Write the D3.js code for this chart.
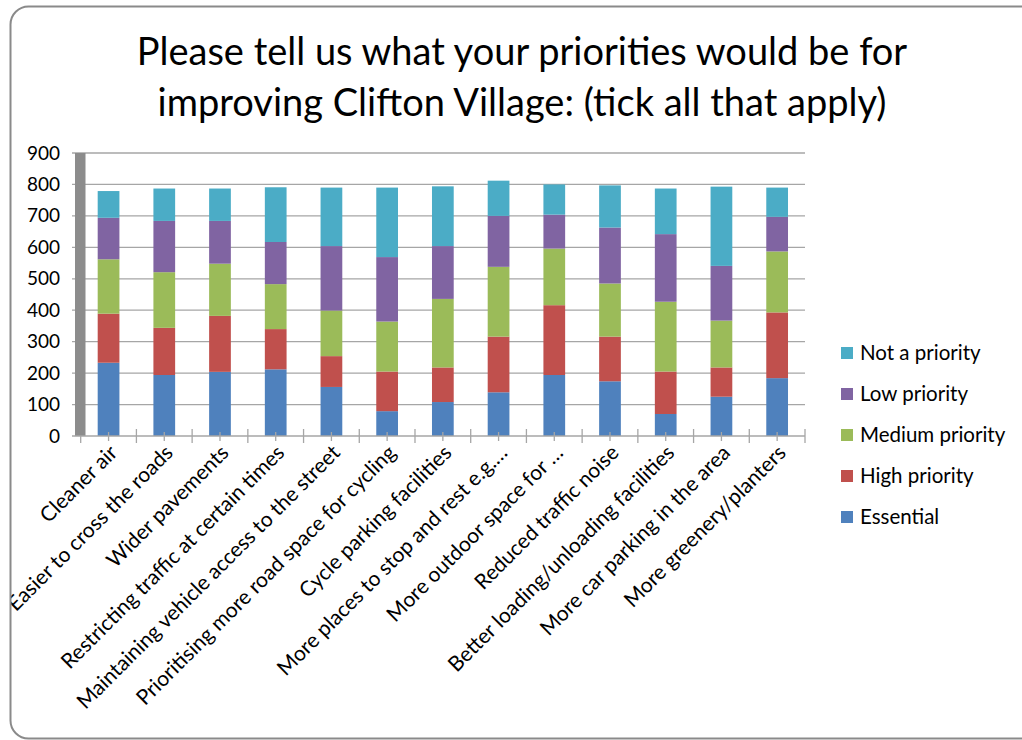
<!DOCTYPE html>
<html>
<head>
<meta charset="utf-8">
<script src="https://cdn.jsdelivr.net/npm/d3@7/dist/d3.min.js"></script>
<style>
  html, body { margin: 0; padding: 0; background: #fff; }
  svg { display: block; }
  text { font-family: Lato, "Open Sans", sans-serif; fill: #000; }
</style>
</head>
<body>
<svg id="chart" width="1022" height="740"></svg>
<script>
// Survey responses: number of respondents per priority level for each improvement
const categories = [
  "Cleaner air",
  "Easier to cross the roads",
  "Wider pavements",
  "Restricting traffic at certain times",
  "Maintaining vehicle access to the street",
  "Prioritising more road space for cycling",
  "Cycle parking facilities",
  "More places to stop and rest e.g.…",
  "More outdoor space for …",
  "Reduced traffic noise",
  "Better loading/unloading facilities",
  "More car parking in the area",
  "More greenery/planters"
];
const seriesNames = ["Essential", "High priority", "Medium priority", "Low priority", "Not a priority"];
const essential  = [233, 194, 204, 212, 156,  79, 108, 139, 194, 174,  70, 125, 184];
const high       = [156, 150, 178, 128,  98, 126, 110, 177, 222, 142, 135,  93, 209];
const medium     = [173, 177, 166, 143, 145, 159, 218, 222, 180, 169, 222, 149, 194];
const low        = [132, 163, 136, 134, 205, 205, 168, 162, 108, 178, 215, 174, 110];
const notPriority= [ 85, 103, 103, 174, 186, 221, 190, 112,  96, 134, 145, 252,  93];
const yTicks = [0, 100, 200, 300, 400, 500, 600, 700, 800, 900];
const colors = ["#4F81BD", "#C0504D", "#9BBB59", "#8064A2", "#4BACC6"];
const titleLines = ["Please tell us what your priorities would be for",
                    "improving Clifton Village: (tick all that apply)"];

const rows = categories.map((c, i) => ({
  category: c,
  "Essential": essential[i],
  "High priority": high[i],
  "Medium priority": medium[i],
  "Low priority": low[i],
  "Not a priority": notPriority[i]
}));

const svg = d3.select("#chart");

// Clip everything to the rounded chart frame
const defs = svg.append("defs");
defs.append("clipPath").attr("id", "frameClip")
  .append("rect").attr("x", 11).attr("y", 7).attr("width", 1030).attr("height", 740).attr("rx", 18);

const root = svg.append("g").attr("clip-path", "url(#frameClip)");

const plot = { left: 80.7, right: 805, top: 153, bottom: 436 };

const x = d3.scaleBand().domain(categories)
  .range([plot.left, plot.right])
  .paddingInner(0.61).paddingOuter(0.305);
const y = d3.scaleLinear().domain([0, 900]).range([plot.bottom, plot.top]);

// Gridlines
root.append("g").selectAll("line").data(yTicks.filter(t => t > 0)).join("line")
  .attr("x1", 72).attr("x2", plot.right)
  .attr("y1", d => y(d)).attr("y2", d => y(d))
  .attr("stroke", "#a6a6a6").attr("stroke-width", 1.3);

// Side wall
root.append("rect")
  .attr("x", 75).attr("y", y(900)).attr("width", 10.5).attr("height", y(0) - y(900))
  .attr("fill", "#8c8c8c");

// Y axis labels
const yAxis = d3.axisLeft(y).tickValues(yTicks).tickSize(0).tickPadding(0);
const yG = root.append("g").attr("transform", "translate(60,0)").call(yAxis);
yG.select(".domain").remove();
yG.selectAll("text").attr("font-size", 19).attr("font-family", "Lato, sans-serif").attr("fill", "#000");

// Stacked bars
const stack = d3.stack().keys(seriesNames);
const stacked = stack(rows);
root.append("g").selectAll("g").data(stacked).join("g")
  .attr("fill", (d, i) => colors[i])
  .selectAll("rect").data(d => d).join("rect")
  .attr("x", d => x(d.data.category))
  .attr("width", x.bandwidth())
  .attr("y", d => y(d[1]))
  .attr("height", d => y(d[0]) - y(d[1]));

// Baseline and tick marks
root.append("line")
  .attr("x1", 72).attr("x2", plot.right).attr("y1", y(0)).attr("y2", y(0))
  .attr("stroke", "#a6a6a6").attr("stroke-width", 1.3);
const step = x.step();
const boundaries = d3.range(categories.length + 1).map(i => plot.left + i * step);
root.append("g").selectAll("line").data(boundaries).join("line")
  .attr("x1", d => d).attr("x2", d => d)
  .attr("y1", (d, i) => i === 0 ? y(0) : y(0) - 7).attr("y2", y(0) + 7)
  .attr("stroke", "#a6a6a6").attr("stroke-width", 1.3);
root.append("g").selectAll("line").data(categories).join("line")
  .attr("x1", d => x(d) + x.bandwidth() / 2).attr("x2", d => x(d) + x.bandwidth() / 2)
  .attr("y1", y(0) - 4).attr("y2", y(0) + 5)
  .attr("stroke", "#a6a6a6").attr("stroke-width", 1.3);

// Category labels, rotated
root.append("g").selectAll("text").data(categories).join("text")
  .attr("transform", d => `translate(${x(d) + x.bandwidth() / 2 + 10},${y(0) + 18}) rotate(-45)`)
  .attr("text-anchor", "end")
  .attr("font-size", 21)
  .text(d => d);

// Title
root.append("g").selectAll("text").data(titleLines).join("text")
  .attr("x", 522).attr("y", (d, i) => 65 + i * 51)
  .attr("text-anchor", "middle")
  .attr("font-size", 38)
  .text(d => d);

// Legend (top to bottom: reverse stack order)
const legendItems = seriesNames.map((n, i) => ({ name: n, color: colors[i] })).reverse();
const legend = root.append("g").selectAll("g").data(legendItems).join("g")
  .attr("transform", (d, i) => `translate(841,${353 + i * 41})`);
legend.append("rect").attr("x", 0).attr("y", -6).attr("width", 12).attr("height", 12)
  .attr("fill", d => d.color);
legend.append("text").attr("x", 19).attr("y", 0).attr("dy", "0.35em")
  .attr("font-size", 20.5).text(d => d.name);

// Frame
svg.append("rect")
  .attr("x", 10.5).attr("y", 6.5).attr("width", 1030).attr("height", 732).attr("rx", 18)
  .attr("fill", "none").attr("stroke", "#8a8a8a").attr("stroke-width", 2);
</script>
</body>
</html>
